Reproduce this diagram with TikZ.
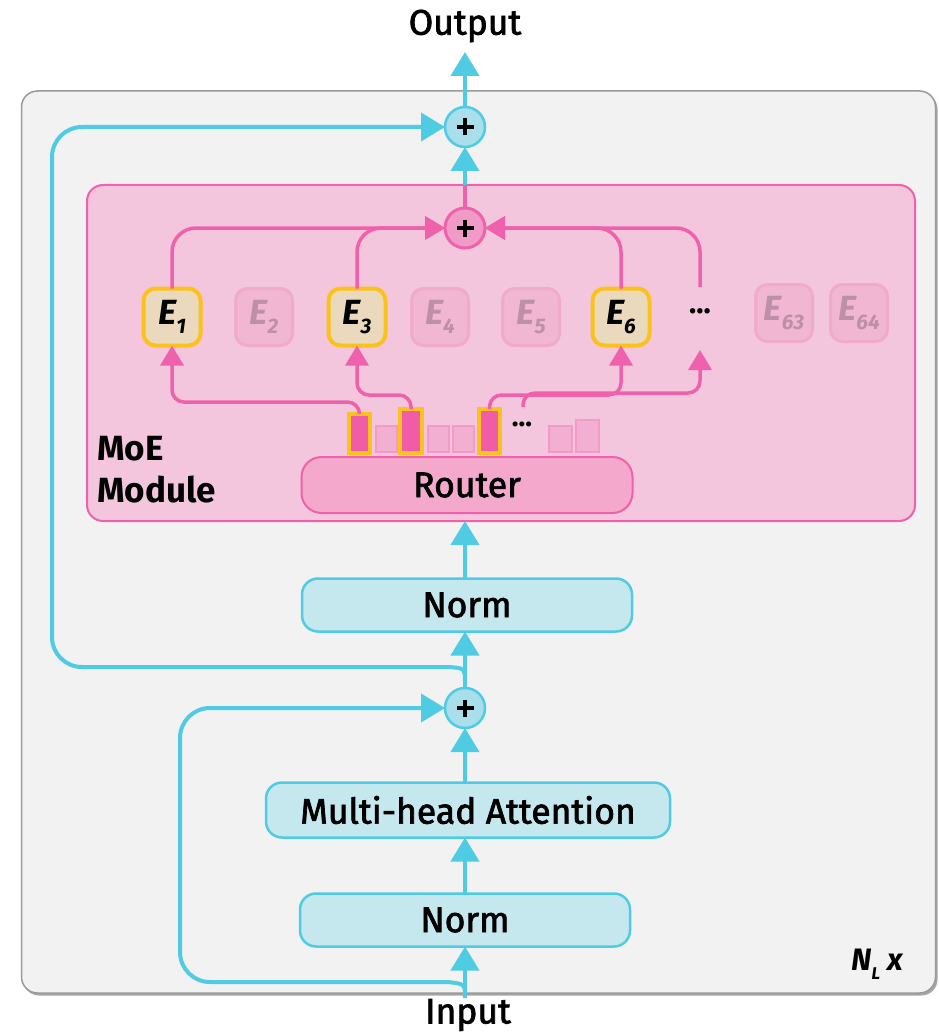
\documentclass[tikz,border=0pt]{standalone}
\usepackage{fontspec}
\setmainfont{Fira Sans}[UprightFeatures={FakeBold=2}, ItalicFeatures={FakeBold=2}, BoldFeatures={FakeBold=0}, BoldItalicFeatures={FakeBold=0}]
\usetikzlibrary{arrows.meta,calc}
\definecolor{cyanline}{HTML}{4FCBE4}
\definecolor{cyanfill}{HTML}{C5E7EE}
\definecolor{cyanplus}{HTML}{A9DFEB}
\definecolor{grayfill}{HTML}{F2F2F2}
\definecolor{grayborder}{HTML}{9A9A9A}
\definecolor{moefill}{HTML}{F3C6DD}
\definecolor{pinkline}{HTML}{EF62AB}
\definecolor{routerfill}{HTML}{F4A8CC}
\definecolor{pinkplus}{HTML}{F09AC7}
\definecolor{pinkbar}{HTML}{F05CA8}
\definecolor{yellowc}{HTML}{FBC21B}
\definecolor{expfill}{HTML}{EBD9BD}
\definecolor{fadefill}{HTML}{F1B6D2}
\definecolor{fadeborder}{HTML}{F0AACB}
\definecolor{fadetext}{HTML}{BE8FA9}
\definecolor{fadebar}{HTML}{F2AFD1}
\definecolor{fadebarb}{HTML}{F09CC6}
\newcommand{\lbl}{\fontsize{35.5}{40}\selectfont}
\newcommand{\ex}[1]{\fontsize{35}{40}\selectfont\bfseries\itshape E\raisebox{-0.25em}{\fontsize{21}{21}\selectfont #1}}
\begin{document}
\begin{tikzpicture}[x=1pt,y=-1pt,
  cbox/.style={draw=cyanline, fill=cyanfill, line width=2.5pt, rounded corners=16pt, minimum height=53pt, inner sep=0pt, outer sep=0pt, font=\lbl},
  cplus/.style={circle, draw=cyanline, fill=cyanplus, line width=2.5pt, minimum size=40pt, inner sep=0pt, outer sep=0pt},
  pplus/.style={circle, draw=pinkline, fill=pinkplus, line width=3pt, minimum size=40pt, inner sep=0pt, outer sep=0pt},
  cline/.style={draw=cyanline, line width=4pt},
  carrow/.style={cline, -{Triangle[length=24pt,width=28pt]}},
  pline/.style={draw=pinkline, line width=3.5pt},
  parrow/.style={pline, -{Triangle[length=20pt,width=23pt]}},
  expert/.style={draw=yellowc, fill=expfill, line width=4pt, rounded corners=12pt, minimum size=57pt, inner sep=0pt, outer sep=0pt},
  fexpert/.style={draw=fadeborder, fill=fadefill, line width=3pt, rounded corners=12pt, minimum size=57pt, inner sep=0pt, outer sep=0pt, text=fadetext},
  selbar/.style={draw=yellowc, fill=pinkbar, line width=4pt, inner sep=0pt, outer sep=0pt},
  fbar/.style={draw=fadebarb, fill=fadebar, line width=2.5pt, inner sep=0pt, outer sep=0pt},
  plusmark/.style={draw=black, line width=3.6pt}
]
\useasboundingbox (0,0) rectangle (938,1035);
% outer block
\fill[black!35, rounded corners=16pt] (23,93) rectangle (937.5,995.5);
\node[draw=grayborder, fill=grayfill, line width=1.5pt, rounded corners=16pt, minimum width=914pt, minimum height=902pt, outer sep=0pt] (outer) at (478.5,542) {};
% MoE module
\node[draw=pinkline, fill=moefill, line width=2pt, rounded corners=16pt, minimum width=828pt, minimum height=336pt, outer sep=0pt] (moe) at (501,353) {};
\node[font=\fontsize{35}{42}\selectfont\bfseries, align=left, anchor=west, inner sep=0pt] (moelbl) at (97,470) {MoE\\Module};
% plus nodes
\node[cplus] (p3) at (465,127) {};
\node[pplus] (pp) at (465,228) {};
\node[cplus] (mp) at (465,708) {};
\foreach \p in {p3,pp,mp}{
  \draw[plusmark] ($(\p)+(-8.5,0)$) -- ($(\p)+(8.5,0)$);
  \draw[plusmark] ($(\p)+(0,-8.5)$) -- ($(\p)+(0,8.5)$);
}
% boxes
\node[cbox, minimum width=330pt] (n2) at (467,605) {Norm};
\node[cbox, minimum width=404pt, minimum height=55pt] (mha) at (468,810) {Multi-head Attention};
\node[cbox, minimum width=330pt] (n1) at (465,920) {Norm};
\node[draw=pinkline, fill=routerfill, line width=2pt, rounded corners=20pt, minimum width=331pt, minimum height=56pt, inner sep=0pt, outer sep=0pt, font=\lbl] (router) at (467,485) {Router};
% experts
\node[expert] (e1) at (172,317) {\ex{1}};
\node[fexpert] (e2) at (264,317) {\ex{2}};
\node[expert] (e3) at (357,317) {\ex{3}};
\node[fexpert] (e4) at (440,317) {\ex{4}};
\node[fexpert] (e5) at (531,317) {\ex{5}};
\node[expert] (e6) at (621,317) {\ex{6}};
\node[font=\fontsize{30}{30}\selectfont\bfseries] (edots) at (700,311) {...};
\node[fexpert] (e63) at (784,313) {\ex{63}};
\node[fexpert] (e64) at (859,313) {\ex{64}};
\coordinate (dtop) at (700,287);
\coordinate (dbot) at (700,350);
% router bars
\node[selbar, minimum width=21pt, minimum height=39pt] (b1) at (359.5,433.5) {};
\node[fbar, minimum width=21pt, minimum height=26pt] (f1) at (386.5,439) {};
\node[selbar, minimum width=22pt, minimum height=44pt] (b2) at (411,431) {};
\node[fbar, minimum width=21pt, minimum height=26pt] (f2) at (438.5,439) {};
\node[fbar, minimum width=21pt, minimum height=26pt] (f3) at (463.5,439) {};
\node[selbar, minimum width=21pt, minimum height=44pt] (b3) at (489.5,431) {};
\node[font=\fontsize{28}{28}\selectfont\bfseries] (rdots) at (522,424) {...};
\node[fbar, minimum width=23pt, minimum height=26pt] (f4) at (560.5,439) {};
\node[fbar, minimum width=23pt, minimum height=32pt] (f5) at (587.5,436) {};
\coordinate (stub) at (523,407);
% labels
\node[font=\lbl] (out) at (465,26) {Output};
\node[font=\lbl, inner sep=1pt] (inp) at (468,1015) {Input};
\node[font=\fontsize{31}{31}\selectfont\bfseries\itshape] (nl) at (877,964) {N\raisebox{-0.3em}{\fontsize{17}{17}\selectfont L} x};
% pink connectors: experts -> sum
\draw[parrow, rounded corners=24pt] (e1.north) |- (pp.west);
\draw[parrow, rounded corners=24pt] (e3.north) |- (pp.west);
\draw[parrow, rounded corners=24pt] (e6.north) |- (pp.east);
\draw[parrow, rounded corners=24pt] (dtop) |- (pp.east);
% router -> experts
\draw[parrow, rounded corners=12pt] (b1.north) -- ++(0,-12) -| (e1.south);
\draw[parrow, rounded corners=12pt] (b2.north) -- ++(0,-14) -| (e3.south);
\draw[parrow, rounded corners=12pt] (b3.north) -- ++(0,-14) -| (e6.south);
\draw[parrow, rounded corners=12pt] (stub) -- ++(0,-14) -| (dbot);
% sum -> output
\draw[pline] (pp.north) -- (pp.north |- moe.north);
\draw[carrow] (pp.north |- moe.north) -- (p3.south);
\draw[carrow] (p3.north) -- (465,52);
% main cyan chain
\draw[carrow] (n2.north -| mp) -- (mp |- moe.south);
\draw[carrow] (mp.north) -- (n2.south -| mp);
\draw[carrow] (mha.north -| mp) -- (mp.south);
\draw[carrow] (n1.north) -- (mha.south -| n1);
\draw[carrow] (inp.north -| n1) -- (n1.south);
% residuals
\coordinate (r1a) at (465,998);
\coordinate (r1b) at (448,982);
\draw[cline] (r1a) .. controls (465,984) .. (r1b);
\draw[carrow, rounded corners=30pt] (r1b) -- (180,982) -- (180,708) -- (mp.west);
\coordinate (r2a) at (465,684);
\coordinate (r2b) at (448,667);
\draw[cline] (r2a) .. controls (465,668) .. (r2b);
\draw[carrow, rounded corners=30pt] (r2b) -- (52,667) -- (52,127) -- (p3.west);
\end{tikzpicture}
\end{document}
